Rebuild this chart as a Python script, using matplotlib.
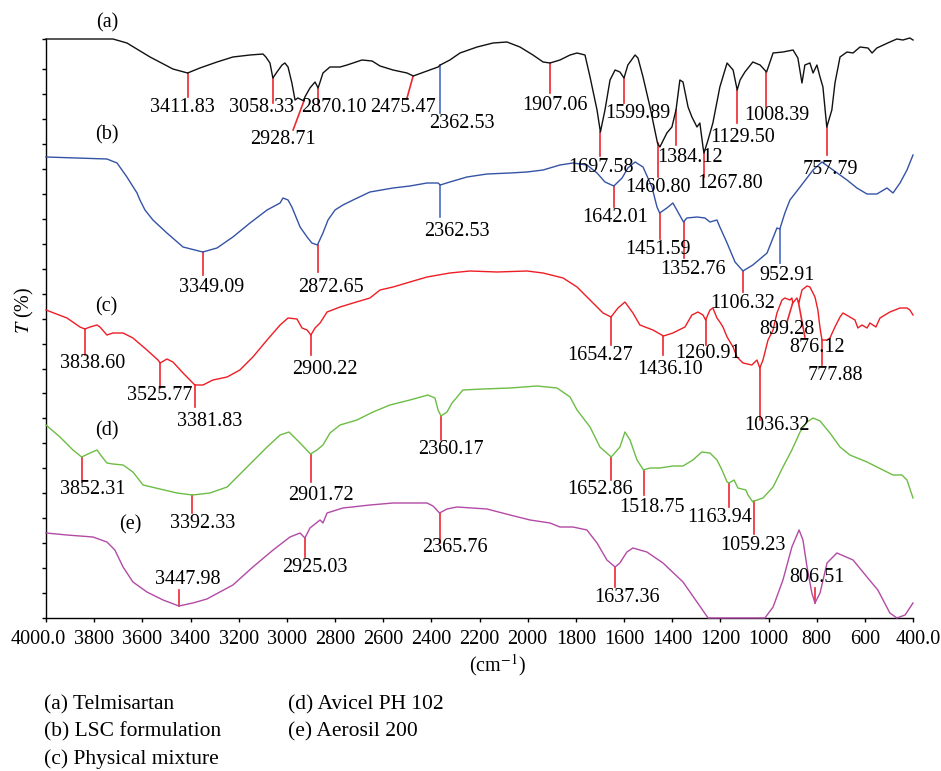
import matplotlib
matplotlib.use("Agg")
import matplotlib.pyplot as plt
import matplotlib.transforms as mtransforms
import numpy as np

plt.rcParams["font.family"] = ["Liberation Serif", "DejaVu Serif"]
plt.rcParams["mathtext.fontset"] = "stix"

# FTIR traces: (wavenumber cm-1, transmittance, arbitrary offset units)
TELMISARTAN = [
    (4000, 579), (3871, 579), (3722, 579), (3664, 575), (3568, 561), (3473, 549),
    (3412, 545), (3361, 550), (3290, 556), (3224, 561), (3153, 563), (3099, 564),
    (3087, 561), (3070, 555), (3058, 540), (3041, 546), (3020, 553), (3008, 555),
    (2995, 551), (2979, 535), (2966, 518), (2954, 520), (2929, 517), (2925, 521),
    (2904, 530), (2883, 536), (2870, 530), (2850, 545), (2821, 551), (2779, 551),
    (2750, 553), (2725, 555), (2688, 558), (2646, 557), (2613, 552), (2559, 548),
    (2501, 545), (2475, 542), (2418, 547), (2372, 551), (2363, 553), (2323, 558),
    (2281, 565), (2210, 571), (2144, 575), (2086, 576), (2032, 571), (1978, 563),
    (1936, 556), (1907, 555), (1866, 558), (1824, 563), (1795, 565), (1762, 563),
    (1741, 541), (1712, 508), (1698, 486), (1679, 508), (1658, 538), (1637, 548),
    (1617, 546), (1600, 540), (1584, 553), (1554, 563), (1542, 560), (1521, 541),
    (1492, 511), (1461, 475), (1451, 471), (1422, 485), (1401, 491), (1384, 508),
    (1368, 538), (1355, 536), (1334, 511), (1318, 501), (1297, 491), (1285, 495),
    (1272, 471), (1268, 465), (1251, 478), (1231, 495), (1202, 531), (1172, 555),
    (1147, 548), (1130, 528), (1118, 538), (1098, 546), (1065, 556), (1035, 553),
    (1008, 546), (981, 565), (940, 566), (898, 568), (878, 560), (861, 535),
    (849, 553), (828, 555), (815, 545), (799, 553), (786, 541), (774, 531),
    (758, 491), (737, 508), (724, 535), (703, 561), (674, 566), (649, 565),
    (620, 571), (587, 570), (570, 565), (550, 570), (496, 576), (467, 579),
    (442, 578), (413, 580), (400, 578),
]

LSC_FORMULATION = [
    (4000, 461), (3747, 459), (3705, 455), (3664, 441), (3622, 425), (3610, 418),
    (3589, 408), (3556, 398), (3498, 385), (3431, 371), (3349, 366), (3290, 370),
    (3224, 381), (3153, 395), (3082, 408), (3028, 415), (3016, 420), (2995, 418),
    (2979, 411), (2945, 391), (2916, 381), (2896, 375), (2873, 373), (2850, 385),
    (2829, 398), (2800, 408), (2767, 413), (2725, 418), (2655, 426), (2559, 430),
    (2489, 432), (2418, 435), (2372, 435), (2363, 433), (2323, 436), (2252, 441),
    (2169, 444), (2073, 445), (2003, 446), (1936, 448), (1866, 453), (1812, 455),
    (1754, 453), (1712, 445), (1679, 436), (1642, 432), (1608, 440), (1584, 450),
    (1554, 456), (1521, 451), (1484, 431), (1463, 411), (1452, 405), (1422, 410),
    (1397, 415), (1376, 406), (1353, 396), (1339, 400), (1297, 401), (1264, 400),
    (1243, 396), (1214, 398), (1202, 391), (1172, 375), (1139, 356), (1106, 347),
    (1065, 353), (1006, 365), (965, 390), (953, 389), (932, 405), (911, 418),
    (869, 431), (815, 448), (778, 456), (732, 448), (674, 438), (633, 430),
    (591, 424), (550, 424), (508, 430), (483, 425), (454, 435), (425, 448),
    (400, 463),
]

PHYSICAL_MIXTURE = [
    (4000, 308), (3913, 300), (3859, 291), (3839, 289), (3817, 291), (3788, 293),
    (3776, 291), (3747, 283), (3722, 285), (3680, 285), (3639, 280), (3581, 268),
    (3535, 258), (3526, 255), (3498, 259), (3473, 256), (3431, 245), (3382, 233),
    (3348, 233), (3307, 238), (3248, 241), (3195, 248), (3141, 261), (3082, 278),
    (3028, 293), (2995, 300), (2958, 299), (2937, 290), (2916, 288), (2900, 283),
    (2883, 290), (2862, 295), (2833, 306), (2779, 311), (2725, 315), (2655, 320),
    (2613, 328), (2559, 331), (2489, 336), (2418, 341), (2323, 345), (2240, 347),
    (2127, 346), (2003, 347), (1936, 345), (1853, 340), (1795, 331), (1741, 318),
    (1687, 305), (1654, 301), (1625, 310), (1596, 316), (1563, 305), (1534, 293),
    (1480, 288), (1436, 282), (1397, 285), (1347, 291), (1318, 303), (1293, 306),
    (1272, 303), (1261, 298), (1243, 308), (1231, 310), (1214, 300), (1202, 296),
    (1189, 291), (1172, 281), (1147, 271), (1131, 261), (1106, 255), (1069, 253),
    (1048, 258), (1036, 250), (1023, 258), (1002, 278), (981, 288), (965, 305),
    (944, 318), (932, 320), (911, 318), (903, 320), (899, 315), (882, 320),
    (874, 315), (861, 328), (840, 332), (828, 331), (807, 321), (795, 308),
    (786, 290), (778, 278), (757, 278), (745, 280), (724, 291), (703, 301),
    (691, 305), (662, 301), (641, 298), (629, 290), (612, 293), (591, 290),
    (579, 295), (554, 291), (537, 300), (496, 306), (454, 310), (425, 310),
    (413, 308), (400, 303),
]

AVICEL = [
    (4000, 193), (3942, 181), (3888, 168), (3852, 161), (3817, 165), (3788, 168),
    (3767, 161), (3747, 155), (3722, 154), (3680, 153), (3639, 146), (3597, 133),
    (3527, 129), (3456, 125), (3392, 123), (3319, 125), (3248, 131), (3165, 151),
    (3082, 171), (3028, 183), (2991, 186), (2945, 175), (2902, 164), (2875, 168),
    (2850, 173), (2821, 185), (2779, 193), (2709, 198), (2642, 206), (2572, 213),
    (2489, 218), (2414, 223), (2385, 220), (2372, 208), (2360, 202), (2335, 206),
    (2314, 215), (2293, 221), (2269, 228), (2186, 229), (2073, 230), (1961, 232),
    (1878, 230), (1824, 221), (1795, 208), (1741, 191), (1700, 171), (1653, 161),
    (1617, 171), (1596, 186), (1575, 178), (1546, 158), (1519, 148), (1492, 150),
    (1451, 150), (1397, 152), (1355, 152), (1314, 158), (1277, 166), (1243, 165),
    (1214, 158), (1193, 148), (1172, 136), (1164, 135), (1143, 138), (1127, 130),
    (1094, 128), (1085, 123), (1065, 116), (1059, 117), (1023, 120), (981, 131),
    (940, 151), (903, 168), (869, 186), (840, 196), (815, 200), (786, 197),
    (745, 185), (703, 171), (662, 163), (591, 156), (525, 148), (483, 143),
    (446, 143), (425, 138), (400, 120),
]

AEROSIL = [
    (4000, 85), (3913, 83), (3805, 81), (3747, 76), (3714, 68), (3680, 51),
    (3639, 36), (3581, 26), (3514, 18), (3448, 12), (3390, 15), (3332, 19),
    (3224, 33), (3141, 51), (3057, 68), (2987, 81), (2945, 85), (2925, 80),
    (2904, 90), (2862, 98), (2850, 95), (2833, 105), (2767, 110), (2655, 113),
    (2559, 115), (2418, 115), (2393, 112), (2366, 105), (2335, 109), (2294, 111),
    (2169, 109), (2073, 103), (1990, 98), (1907, 95), (1866, 91), (1812, 91),
    (1754, 88), (1712, 75), (1671, 58), (1637, 51), (1617, 55), (1604, 60),
    (1588, 66), (1563, 70), (1505, 66), (1438, 55), (1355, 36), (1297, 16),
    (1251, 0), (1015, 0), (981, 11), (940, 38), (903, 71), (873, 88), (857, 78),
    (840, 51), (820, 25), (807, 15), (786, 25), (757, 55), (716, 65), (649, 58),
    (591, 41), (546, 28), (496, 5), (467, 0), (433, 3), (400, 15),
]

PEAKS_A = [3411.83, 3058.33, 2928.71, 2870.10, 2475.47, 2362.53, 1907.06, 1697.58,
           1599.89, 1460.80, 1384.12, 1267.80, 1129.50, 1008.39, 757.79]
PEAKS_B = [3349.09, 2872.65, 2362.53, 1642.01, 1451.59, 1352.76, 1106.32, 952.91]
PEAKS_C = [3838.60, 3525.77, 3381.83, 2900.22, 1654.27, 1436.10, 1260.91, 1036.32,
           899.28, 876.12, 777.88]
PEAKS_D = [3852.31, 3392.33, 2901.72, 2360.17, 1652.86, 1518.75, 1163.94, 1059.23]
PEAKS_E = [3447.98, 2925.03, 2365.76, 1637.36, 806.51]

# peak marker placement: (far end wn or None for vertical, far end T, text wn, text T)
LAYOUT_A = [(None, 521, 3435, 511), (None, 515, 3103, 511), (2974, 488, 3016, 479),
            (None, 513, 2804, 510), (2501, 520, 2518, 511), (None, 505, 2273, 494),
            (None, 525, 1887, 512), (None, 462, 1696, 450), (None, 515, 1542, 505),
            (None, 441, 1459, 431), (None, 473, 1326, 461), (None, 441, 1160, 435),
            (None, 495, 1106, 480), (None, 511, 965, 502), (None, 463, 745, 448)]
LAYOUT_B = [(None, 343, 3311, 331), (None, 346, 2817, 331), (None, 401, 2294, 386),
            (None, 411, 1637, 400), (None, 379, 1459, 368), (None, 360, 1314, 348),
            (None, 326, 1106, 315), (None, 355, 923, 342)]
LAYOUT_C = [(None, 263, 3805, 255), (None, 230, 3527, 223), (None, 211, 3319, 196),
            (None, 263, 2842, 248), (None, 273, 1700, 262), (None, 263, 1409, 248),
            (None, 273, 1251, 265), (None, 198, 965, 193), (923, 296, 923, 288),
            (849, 281, 799, 271), (None, 253, 724, 243)]
LAYOUT_D = [(None, 136, 3805, 128), (None, 105, 3348, 95), (None, 136, 2858, 123),
            (None, 178, 2318, 169), (None, 138, 1700, 128), (None, 123, 1484, 111),
            (None, 111, 1201, 100), (None, 84, 1064, 72)]
LAYOUT_E = [(None, 28, 3410, 38), (None, 61, 2883, 51), (None, 75, 2302, 70),
            (None, 31, 1588, 21), (None, 30, 799, 41)]

BLUE_MARKS = {("a", 2362.53), ("b", 2362.53), ("b", 952.91)}

SERIES = [
    ("a", TELMISARTAN, "#111111", PEAKS_A, LAYOUT_A, (3747, 595)),
    ("b", LSC_FORMULATION, "#3553a6", PEAKS_B, LAYOUT_B, (3747, 483)),
    ("c", PHYSICAL_MIXTURE, "#ee1d25", PEAKS_C, LAYOUT_C, (3751, 311)),
    ("d", AVICEL, "#6cbd45", PEAKS_D, LAYOUT_D, (3747, 187)),
    ("e", AEROSIL, "#b24aa6", PEAKS_E, LAYOUT_E, (3651, 93)),
]

LEGEND = [
    ["(a) Telmisartan", "(b) LSC formulation", "(c) Physical mixture"],
    ["(d) Avicel PH 102", "(e) Aerosil 200"],
]

RED = "#ec2830"
BLUE = "#4a6cc0"
FS = 14.5

W, H = 941, 771
fig = plt.figure(figsize=(W / 100, H / 100), dpi=100)
ax = fig.add_axes([46 / W, (H - 618) / H, 867 / W, 579 / H])

for key, data, color, peaks, layout, tag in SERIES:
    wn, t = np.array(data, dtype=float).T
    ax.plot(wn, t, color=color, lw=1.0, clip_on=False, zorder=3)
    ax.text(tag[0], tag[1], f"({key})", fontsize=FS, ha="center", va="center",
            clip_on=False)
    for p, (ex, ey, tx, ty) in zip(peaks, layout):
        y0 = np.interp(p, wn[::-1], t[::-1])
        x1 = p if ex is None else ex
        mc = BLUE if (key, p) in BLUE_MARKS else RED
        ax.plot([p, x1], [y0, ey], color=mc, lw=1.2, zorder=2, clip_on=False)
        ax.text(tx, ty, f"{p:.2f}", fontsize=FS, ha="center", va="center",
                zorder=4)

ax.set_xlim(4000, 400)
ax.set_ylim(0, 579)
xt = np.arange(4000, 399, -200)
ax.set_xticks(xt)
ax.set_xticklabels([f"{v:.1f}" if v in (4000, 400) else f"{v}" for v in xt],
                   fontsize=FS)
ax.set_yticks(list(np.arange(0, 560, 24.95)) + [579])
ax.set_yticklabels([])
ax.tick_params(direction="out", length=3, width=1.0)
ax.tick_params(axis="x", pad=6)
for side in ("top", "right"):
    ax.spines[side].set_visible(False)
for side in ("left", "bottom"):
    ax.spines[side].set_linewidth(1.0)

# end labels sit slightly outward from their ticks
labels = ax.get_xticklabels()
for lab, dx in ((labels[0], -8), (labels[-1], 5)):
    lab.set_transform(lab.get_transform()
                      + mtransforms.ScaledTranslation(dx / 100, 0, fig.dpi_scale_trans))

fig.text(497 / W, 1 - 665 / H, r"(cm$^{-1}$)", fontsize=FS, ha="center", va="center")
fig.text(24 / W, 1 - 310 / H, r"$T$ (%)", fontsize=FS, rotation=90,
         ha="center", va="center")

for col, x0 in zip(LEGEND, (44, 288)):
    for i, s in enumerate(col):
        fig.text(x0 / W, 1 - (705 + 27 * i) / H, s, fontsize=15.5, ha="left",
                 va="center")

fig.savefig("out.png", dpi=100)
